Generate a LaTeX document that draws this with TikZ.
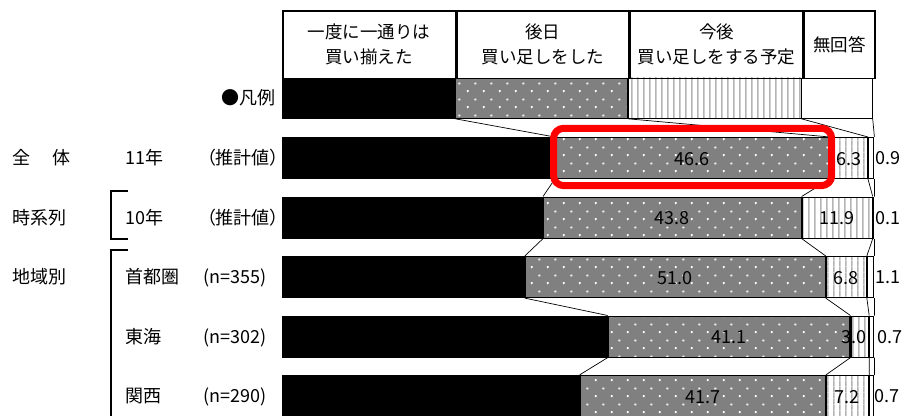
\documentclass[tikz,border=0pt]{standalone}
\usepackage{fontspec}
\setmainfont{Noto Sans CJK JP}
\newfontfamily\jpp{Noto Sans CJK JP}[RawFeature=+palt]
\usetikzlibrary{patterns.meta}
\definecolor{bargray}{HTML}{808080}
\definecolor{stripegray}{HTML}{B4B4B4}
\definecolor{hlred}{HTML}{FF0000}
\tikzdeclarepattern{
  name=wdots,
  type=uncolored,
  bottom left={(0pt,0pt)},
  top right={(16pt,16pt)},
  tile size={(16pt,16pt)},
  code={
    \fill (3pt,3pt) rectangle (5pt,5pt);
    \fill (11pt,11pt) rectangle (13pt,13pt);
  }
}
\tikzdeclarepattern{
  name=vstripes,
  type=uncolored,
  bottom left={(0pt,0pt)},
  top right={(6.3pt,6.3pt)},
  tile size={(6.3pt,6.3pt)},
  code={
    \fill (2.4pt,0pt) rectangle (3.9pt,6.3pt);
  }
}
\begin{document}
\begin{tikzpicture}[x=1pt,y=-1pt,
  seg/.style={draw=black, line width=1.1pt, anchor=north west, inner sep=0pt, minimum height=41pt},
  blk/.style={seg, fill=black},
  dotg/.style={seg, preaction={fill=bargray}, pattern=wdots, pattern color=white},
  strp/.style={seg, preaction={fill=white}, pattern=vstripes, pattern color=stripegray},
  wht/.style={seg, fill=white},
  leg/.style={line width=0.8pt, minimum height=40.5pt},
  lbl/.style={font=\fontsize{18}{18}\selectfont, inner sep=0pt},
  vlbl/.style={lbl, anchor=base, yshift=-7pt},
  lw/.style={lbl, anchor=base west},
  le/.style={lbl, anchor=base east},
  rv/.style={lbl, anchor=base},
  series/.style={draw=black, line width=0.7pt},
  hdr/.style={draw=black, line width=1.5pt, anchor=north west, inner sep=0pt, minimum height=67.5pt, align=center, font=\fontsize{17.5}{25}\selectfont},
  brk/.style={draw=black, line width=1.2pt},
  hilite/.style={draw=hlred, line width=7pt, rounded corners=10pt}
]
\useasboundingbox (0,0) rectangle (904,415);

% legend row
\node[blk, leg, minimum width=172.5pt] (L1) at (282,77.5) {};
\node[dotg, leg, minimum width=172pt] (L2) at (L1.north east) {};
\node[strp, leg, minimum width=172.5pt] (L3) at (L2.north east) {};
\node[wht, leg, minimum width=70.5pt] (L4) at (L3.north east) {};
\node[le] (legtxt) at (276,104.5) {●凡例};

% header
\node[hdr, minimum width=172.5pt] (h1) at (282,10) {一度に一通りは\\買い揃えた};
\node[hdr, minimum width=172pt] (h2) at (h1.north east) {後日\\買い足しをした};
\node[hdr, minimum width=172.5pt] (h3) at (h2.north east) {今後\\買い足しをする予定};
\node[hdr, minimum width=70.5pt] (h4) at (h3.north east) {無回答};

% rows
\node[blk, minimum width=271.66pt] (r1a) at (282,137) {};
\node[dotg, minimum width=274.01pt] (r1b) at (r1a.north east) {};
\node[strp, minimum width=37.04pt] (r1c) at (r1b.north east) {};
\node[wht, minimum width=5.29pt] (r1d) at (r1c.north east) {};

\node[blk, minimum width=259.90pt] (r2a) at (282,196.5) {};
\node[dotg, minimum width=257.54pt] (r2b) at (r2a.north east) {};
\node[strp, minimum width=69.97pt] (r2c) at (r2b.north east) {};
\node[wht, minimum width=0.59pt] (r2d) at (r2c.north east) {};

\node[blk, minimum width=241.67pt] (r3a) at (282,256) {};
\node[dotg, minimum width=299.88pt] (r3b) at (r3a.north east) {};
\node[strp, minimum width=39.98pt] (r3c) at (r3b.north east) {};
\node[wht, minimum width=6.47pt] (r3d) at (r3c.north east) {};

\node[blk, minimum width=324.58pt] (r4a) at (282,315.5) {};
\node[dotg, minimum width=241.67pt] (r4b) at (r4a.north east) {};
\node[strp, minimum width=17.64pt] (r4c) at (r4b.north east) {};
\node[wht, minimum width=4.12pt] (r4d) at (r4c.north east) {};

\node[blk, minimum width=296.35pt] (r5a) at (282,375) {};
\node[dotg, minimum width=245.20pt] (r5b) at (r5a.north east) {};
\node[strp, minimum width=42.34pt] (r5c) at (r5b.north east) {};
\node[wht, minimum width=4.12pt] (r5d) at (r5c.north east) {};

% series lines
\draw[series] (L1.south east) -- (r1a.north east);
\draw[series] (L2.south east) -- (r1b.north east);
\draw[series] (L3.south east) -- (r1c.north east);
\draw[series] (L4.south east) -- (r1d.north east);
\foreach \i/\j in {1/2,2/3,3/4,4/5}{
  \foreach \s in {a,b,c,d}{
    \draw[series] (r\i\s.south east) -- (r\j\s.north east);
  }
}

% value labels
\node[vlbl] (v1b) at (r1b.center) {46.6};
\node[vlbl] (v1c) at (r1c.center) {6.3};
\node[vlbl] (v2b) at (r2b.center) {43.8};
\node[vlbl] (v2c) at (r2c.center) {11.9};
\node[vlbl] (v3b) at (r3b.center) {51.0};
\node[vlbl] (v3c) at (r3c.center) {6.8};
\node[vlbl] (v4b) at (r4b.center) {41.1};
\node[vlbl, xshift=-6pt] (v4c) at (r4c.center) {3.0};
\node[vlbl] (v5b) at (r5b.center) {41.7};
\node[vlbl] (v5c) at (r5c.center) {7.2};

\node[rv] (v1d) at (888,164.5) {0.9};
\node[rv] (v2d) at (888,224) {0.1};
\node[rv] (v3d) at (888,283.5) {1.1};
\node[rv] (v4d) at (890,343) {0.7};
\node[rv] (v5d) at (887,402.5) {0.7};

% left labels
\node[lw] (g1) at (12,164.5) {全\hspace{22.5pt}体};
\node[lw] (y1) at (125,164.5) {11年};
\node[le] (e1) at (279,164.5) {\jpp （推計値）};
\node[lw] (g2) at (12,224) {時系列};
\node[lw] (y2) at (125,224) {10年};
\node[le] (e2) at (279,224) {\jpp （推計値）};
\node[lw] (g3) at (12,283.5) {地域別};
\node[lw] (a1) at (125,283.5) {首都圏};
\node[lw] (n1) at (203,283.5) {(n=355)};
\node[lw] (a2) at (125,343) {東海};
\node[lw] (n2) at (203,343) {(n=302)};
\node[lw] (a3) at (125,402.5) {関西};
\node[lw] (n3) at (203,402.5) {(n=290)};

% brackets
\draw[brk] (128,191) -- (111,191) -- (111,239) -- (128,239);
\draw[brk] (128,250) -- (111,250) -- (111,420);

% highlight
\draw[hilite] ([xshift=-1.2pt,yshift=8.7pt]r1b.north west) rectangle ([xshift=1.8pt,yshift=-6.5pt]r1b.south east);
\end{tikzpicture}
\end{document}
